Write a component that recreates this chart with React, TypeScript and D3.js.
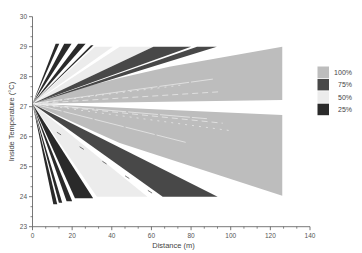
import React from "react";
import * as d3 from "d3";

// fan origin (distance m, temperature °C)
const origin: [number, number] = [0, 27.1];

// wedge edge end points [[x1, y1], [x2, y2]] per level
const fan25 = [
  [[11.7, 29.1], [13.5, 29.1]],
  [[16.0, 29.1], [19.7, 29.1]],
  [[23.0, 29.1], [26.8, 29.1]],
  [[29.5, 29.05], [30.8, 29.05]],
  [[10.5, 23.75], [12.5, 23.75]],
  [[13.3, 23.8], [15.0, 23.8]],
  [[17.2, 23.85], [20.0, 23.85]],
  [[21.4, 23.95], [30.6, 23.95]],
];
const fan50 = [
  [[31.5, 29], [40.5, 29]],
  [[44.0, 29], [61.0, 29]],
  [[32.5, 24], [58.0, 24]],
];
const fan75 = [
  [[61.0, 29], [80.0, 29]],
  [[83.0, 29], [93.0, 29]],
  [[65.7, 24], [93.4, 24]],
];
// 100% areas (outline points)
const area100Upper = [[0, 27.1], [20, 27.55], [44, 27.96], [69, 28.33], [126, 29], [126, 27.22]];
const area100Lower = [[0, 27.1], [126, 26.72], [126, 24.03], [44, 25.79], [20, 26.5]];

// white / dark streaks inside the areas (end points)
const whiteStreaks = [[91, 27.92], [95, 27.5], [75, 27.72], [78, 25.8], [96, 26.45], [100, 26.2], [88, 26.6]];
const darkStreak = [[12.3, 26.15], [62, 24.05]];

const legendLabels = ["100%", "75%", "50%", "25%"];
const legendColors = ["#bdbdbd", "#484848", "#ececec", "#2a2a2a"];

const xTicks = [0, 20, 40, 60, 80, 100, 120, 140];
const yTicks = [23, 24, 25, 26, 27, 28, 29, 30];

export default function App() {
  const x = d3.scaleLinear().domain([0, 140]).range([32.5, 310]);
  const y = d3.scaleLinear().domain([23, 30]).range([226.7, 16.7]);

  const line = d3
    .line<number[]>()
    .x((d) => x(d[0]))
    .y((d) => y(d[1]));

  const wedge = (e: number[][]) => line([origin, e[0], e[1]]) + "Z";

  const xMinor = d3.range(0, 140, 20 / 3).filter((v) => Math.abs(v / 20 - Math.round(v / 20)) > 0.01);
  const yMinor = d3.range(23, 30, 1 / 3).filter((v) => Math.abs(v - Math.round(v)) > 0.01);

  const font = "'Liberation Sans', Arial, sans-serif";
  const axisColor = "#555";

  return (
    <svg
      width={362}
      height={253}
      style={{ position: "absolute", left: 0, top: 0, background: "#fff" }}
      fontFamily={font}
    >
      {/* 100% areas */}
      <path d={line(area100Upper) + "Z"} fill={legendColors[0]} />
      <path d={line(area100Lower) + "Z"} fill={legendColors[0]} />
      {whiteStreaks.map((p, i) => (
        <line
          key={"w" + i}
          x1={x(origin[0])}
          y1={y(origin[1])}
          x2={x(p[0])}
          y2={y(p[1])}
          stroke="#fff"
          strokeWidth={0.7}
          strokeDasharray={i % 3 === 0 ? "30 2" : i % 3 === 1 ? "6 4" : "2 5"}
          opacity={0.75}
        />
      ))}

      {fan50.map((e, i) => (
        <path key={"l" + i} d={wedge(e)} fill={legendColors[2]} />
      ))}
      {fan75.map((e, i) => (
        <path key={"d" + i} d={wedge(e)} fill={legendColors[1]} />
      ))}
      {fan25.map((e, i) => (
        <path key={"b" + i} d={wedge(e)} fill={legendColors[3]} />
      ))}
      <line
        x1={x(darkStreak[0][0])}
        y1={y(darkStreak[0][1])}
        x2={x(darkStreak[1][0])}
        y2={y(darkStreak[1][1])}
        stroke="#555"
        strokeWidth={0.8}
        strokeDasharray="5 22"
      />

      {/* axes */}
      <line x1={x(0)} x2={x(140)} y1={y(23)} y2={y(23)} stroke={axisColor} strokeWidth={0.8} />
      <line x1={x(0)} x2={x(0)} y1={y(23)} y2={y(30)} stroke={axisColor} strokeWidth={0.8} />
      {xTicks.map((t) => (
        <g key={"xt" + t}>
          <line x1={x(t)} x2={x(t)} y1={y(23)} y2={y(23) + 3.5} stroke={axisColor} strokeWidth={0.8} />
          <text x={x(t)} y={y(23) + 11} fontSize={6.5} fill="#555" textAnchor="middle">
            {t}
          </text>
        </g>
      ))}
      {xMinor.map((t, i) => (
        <line key={"xm" + i} x1={x(t)} x2={x(t)} y1={y(23)} y2={y(23) + 2} stroke={axisColor} strokeWidth={0.7} />
      ))}
      {yTicks.map((t) => (
        <g key={"yt" + t}>
          <line x1={x(0) - 3.5} x2={x(0)} y1={y(t)} y2={y(t)} stroke={axisColor} strokeWidth={0.8} />
          <text x={x(0) - 5.5} y={y(t)} fontSize={6.5} fill="#555" textAnchor="end" dominantBaseline="central">
            {t}
          </text>
        </g>
      ))}
      {yMinor.map((t, i) => (
        <line key={"ym" + i} x1={x(0) - 2} x2={x(0)} y1={y(t)} y2={y(t)} stroke={axisColor} strokeWidth={0.7} />
      ))}

      <text x={173.5} y={248} fontSize={7.5} fill="#444" textAnchor="middle">
        Distance (m)
      </text>
      <text
        transform={`translate(11,121.5) rotate(-90)`}
        fontSize={7.5}
        fill="#444"
        textAnchor="middle"
        dominantBaseline="central"
      >
        Inside Temperature (°C)
      </text>

      {/* legend */}
      {legendLabels.map((l, i) => (
        <g key={l}>
          <rect x={317.5} y={66.5 + i * 12.4} width={11.5} height={11.5} fill={legendColors[i]} />
          <text x={352} y={72.3 + i * 12.4} fontSize={7} fill="#444" textAnchor="end" dominantBaseline="central">
            {l}
          </text>
        </g>
      ))}
    </svg>
  );
}
